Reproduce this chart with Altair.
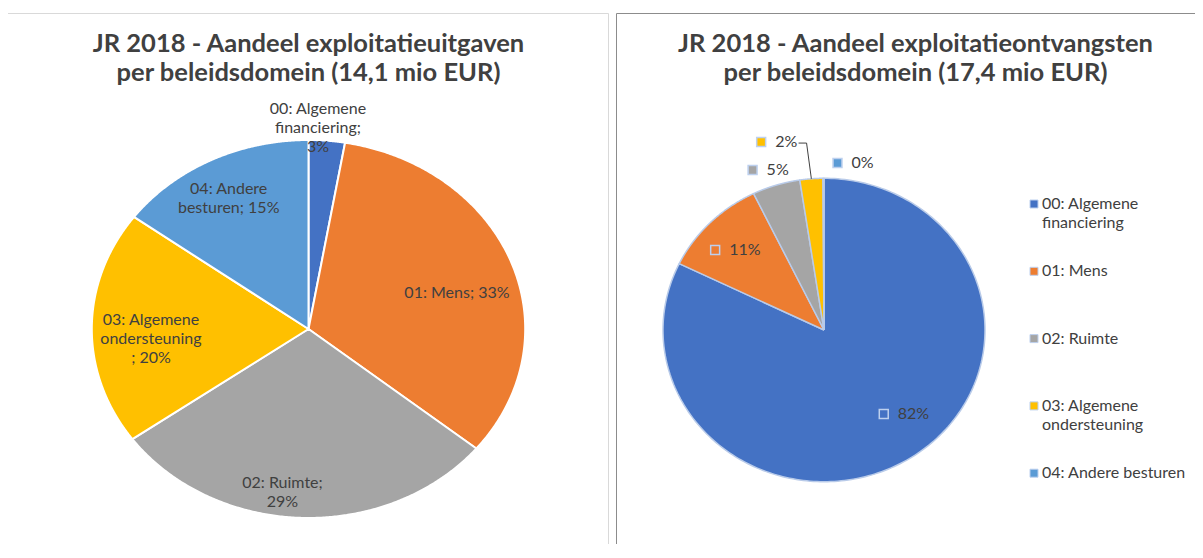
import altair as alt
import pandas as pd

# ---------------- data ----------------
CATEGORIES = [
    "00: Algemene financiering",
    "01: Mens",
    "02: Ruimte",
    "03: Algemene ondersteuning",
    "04: Andere besturen",
]
COLORS = ["#4472C4", "#ED7D31", "#A5A5A5", "#FFC000", "#5B9BD5"]

# share (%) of exploitatieuitgaven (14,1 mio EUR) and exploitatieontvangsten (17,4 mio EUR)
LEFT_VALUES = [2.7, 33.2, 29.2, 20.0, 14.9]
RIGHT_VALUES = [82.2, 10.6, 4.8, 2.3, 0.1]

LEFT_TITLE = ["JR 2018 - Aandeel exploitatieuitgaven", "per beleidsdomein (14,1 mio EUR)"]
RIGHT_TITLE = ["JR 2018 - Aandeel exploitatieontvangsten", "per beleidsdomein (17,4 mio EUR)"]

# data-label text (as wrapped by the original chart), percentage appended
LEFT_LABEL_PREFIX = [
    "00: Algemene\nfinanciering;\n",
    "01: Mens; ",
    "02: Ruimte;\n",
    "03: Algemene\nondersteuning\n; ",
    "04: Andere\nbesturen; ",
]
LEGEND_LABELS = [
    "00: Algemene\nfinanciering",
    "01: Mens",
    "02: Ruimte",
    "03: Algemene\nondersteuning",
    "04: Andere besturen",
]

# label placement (best-fit): radial factor and angular nudge in degrees
LEFT_LABEL_K = [1.064, 0.711, 0.873, 0.729, 0.784]
LEFT_LABEL_DA = [-2.5, 5.0, 6.1, -4.6, -1.2]
RIGHT_LABEL_K = [0.744, 0.762, 1.112, 1.274, 1.115]
RIGHT_LABEL_DA = [-9.9, -1.2, -1.1, -9.0, 9.3]

# ---------------- layout ----------------
W, H = 1187, 536
OFF = 8  # page margin: coordinates below are page pixels
LG = (308.5, 329.0, 216.7, 189.0)  # left pie centre x, y, radius x, radius y
RG = (824.0, 330.0, 161.0, 151.7)  # right pie
N = 240
FONT = "Lato"
TXT = "#404040"
LH = 19

left_df = pd.DataFrame({"cat": CATEGORIES, "value": LEFT_VALUES, "idx": list(range(5)),
                        "prefix": LEFT_LABEL_PREFIX, "k": LEFT_LABEL_K, "da": LEFT_LABEL_DA})
right_df = pd.DataFrame({"cat": CATEGORIES, "value": RIGHT_VALUES, "idx": list(range(5)),
                         "k": RIGHT_LABEL_K, "da": RIGHT_LABEL_DA})
legend_df = pd.DataFrame({"cat": CATEGORIES, "lab": LEGEND_LABELS, "idx": list(range(5))})

color_scale = alt.Scale(domain=CATEGORIES, range=COLORS)


def X(field):
    return alt.X(f"{field}:Q", axis=None,
                 scale=alt.Scale(domain=[OFF, OFF + W], nice=False, zero=False))


def Y(field):
    return alt.Y(f"{field}:Q", axis=None,
                 scale=alt.Scale(domain=[OFF, OFF + H], nice=False, zero=False, reverse=True))


def prep(df):
    return alt.Chart(df).transform_joinaggregate(
        total="sum(value)"
    ).transform_window(
        cum="sum(value)", sort=[alt.SortField("idx")], frame=[None, 0]
    ).transform_calculate(
        a0="2*PI*(datum.cum - datum.value)/datum.total",
        a1="2*PI*datum.cum/datum.total",
        mid="PI*(2*datum.cum - datum.value)/datum.total",
        pct="format(datum.value/datum.total, '.0%')",
    )


def slices(df, g, stroke, sw):
    cx, cy, rx, ry = g
    return prep(df).transform_calculate(
        steps=f"sequence(-1, {N + 2})"
    ).transform_flatten(["steps"], as_=["i"]).transform_calculate(
        t=f"clamp(datum.i, 0, {N}) / {N}",
        ang="datum.a0 + (datum.a1 - datum.a0) * datum.t",
        px=f"(datum.i < 0 || datum.i > {N}) ? {cx} : {cx} + {rx} * sin(datum.ang)",
        py=f"(datum.i < 0 || datum.i > {N}) ? {cy} : {cy} - {ry} * cos(datum.ang)",
    ).mark_line(stroke=stroke, strokeWidth=sw, strokeJoin="round").encode(
        x=X("px"), y=Y("py"),
        fill=alt.Fill("cat:N", scale=color_scale, legend=None),
        detail="cat:N",
        order=alt.Order("i:Q"),
    )


def label_pos(df, g):
    cx, cy, rx, ry = g
    return prep(df).transform_calculate(
        lm="datum.mid + datum.da*PI/180",
        lx=f"{cx} + {rx}*datum.k*sin(datum.lm)",
        ly=f"{cy} - {ry}*datum.k*cos(datum.lm)",
        ex=f"{cx} + {rx}*sin(datum.mid)",
        ey=f"{cy} - {ry}*cos(datum.mid)",
    )


one = alt.Data(values=[{}])

# panel borders
left_border = alt.Chart(one).mark_rect(fillOpacity=0, stroke="#d9d9d9", strokeWidth=1).encode(
    x=alt.value(-0.5), x2=alt.value(600.5), y=alt.value(5.5), y2=alt.value(H + 20)
)
right_border_v = alt.Chart(one).mark_rule(color="#8c8c8c", strokeWidth=1).encode(
    x=alt.value(608.5), y=alt.value(5.5), y2=alt.value(H + 20)
)
right_border_h = alt.Chart(one).mark_rule(color="#8c8c8c", strokeWidth=1).encode(
    x=alt.value(608.5), x2=alt.value(W + 20), y=alt.value(5.5)
)


# titles
def title(lines, cx):
    return alt.Chart(pd.DataFrame({"t": ["\n".join(lines)]})).mark_text(
        font=FONT, fontWeight="bold", fontSize=25.5, color=TXT, lineBreak="\n",
        lineHeight=29, align="center", baseline="alphabetic",
    ).encode(x=alt.value(cx - OFF), y=alt.value(52 - OFF), text="t:N")


left_title = title(LEFT_TITLE, 308.5)
right_title = title(RIGHT_TITLE, 915.5)

# left pie
left_slices = slices(left_df, LG, "white", 2)
left_text = label_pos(left_df, LG).transform_calculate(
    txt="datum.prefix + datum.pct",
    nl="length(split(datum.txt, '\\n'))",
    ty=f"datum.ly - (datum.nl - 1)*{LH}/2",
).mark_text(
    font=FONT, fontSize=16, color=TXT, lineBreak="\n", lineHeight=LH,
    align="center", baseline="middle",
).encode(x=X("lx"), y=Y("ty"), text="txt:N")

# right pie
right_slices = slices(right_df, RG, "#b9cbe9", 1.5)
rl = label_pos(right_df, RG).transform_calculate(
    w="10.7*length(datum.pct)",
    sx="datum.lx - 4.25 - datum.w/2",
    tx="datum.sx + 14",
)
right_sq = rl.mark_square(size=80, filled=True, stroke="#bdd0ee", strokeWidth=1.5, opacity=1).encode(
    x=X("sx"), y=Y("ly"), fill=alt.Fill("cat:N", scale=color_scale, legend=None)
)
right_tx = rl.mark_text(font=FONT, fontSize=16, color=TXT, align="left", baseline="middle").encode(
    x=X("tx"), y=Y("ly"), text="pct:N"
)
leader = rl.transform_filter("datum.k > 1.2").transform_calculate(
    steps="sequence(0, 3)"
).transform_flatten(["steps"], as_=["i"]).transform_calculate(
    qx="datum.i == 0 ? datum.tx + datum.w + 2 : (datum.i == 1 ? datum.tx + datum.w + 10 : datum.ex)",
    qy="datum.i < 2 ? datum.ly + 1 : datum.ey",
).mark_line(color=TXT, strokeWidth=1).encode(
    x=X("qx"), y=Y("qy"), order=alt.Order("i:Q"), detail="cat:N"
)

# legend of right chart
leg = alt.Chart(legend_df).transform_calculate(
    ly="204 + 67.3*datum.idx",
    sx="1034",
    tx="1042",
)
leg_sq = leg.mark_square(size=64, filled=True, stroke="#bdd0ee", strokeWidth=1, opacity=1).encode(
    x=X("sx"), y=Y("ly"), fill=alt.Fill("cat:N", scale=color_scale, legend=None)
)
leg_tx = leg.mark_text(font=FONT, fontSize=16, color=TXT, lineBreak="\n", lineHeight=LH,
                       align="left", baseline="middle").encode(
    x=X("tx"), y=Y("ly"), text="lab:N"
)

chart = alt.layer(
    left_border, right_border_v, right_border_h,
    left_slices, left_text, left_title,
    right_slices, right_sq, right_tx, leader, right_title,
    leg_sq, leg_tx,
).properties(
    width=W, height=H, padding=0,
    autosize=alt.AutoSizeParams(type="none"),
    background="white",
).configure_view(strokeWidth=0)

chart.save("out.html", embed_options={"renderer": "svg", "actions": False})
